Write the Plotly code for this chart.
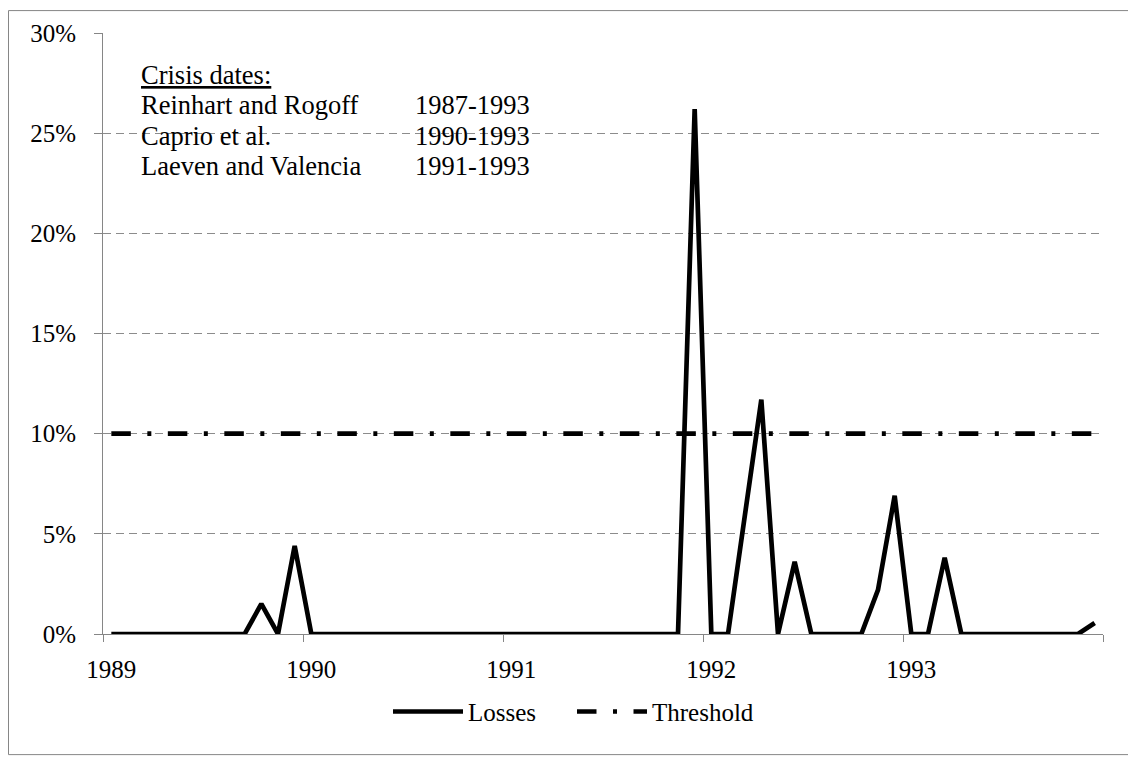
import plotly.graph_objects as go

# Monthly observations, Jan 1989 .. Dec 1993 (60 months)
month_index = list(range(60))
losses_pct = [0, 0, 0, 0, 0, 0, 0, 0, 0, 1.5, 0, 4.4,
              0, 0, 0, 0, 0, 0, 0, 0, 0, 0, 0, 0,
              0, 0, 0, 0, 0, 0, 0, 0, 0, 0, 0, 26.2,
              0, 0, 5.9, 11.7, 0, 3.6, 0, 0, 0, 0, 2.2, 6.9,
              0, 0, 3.8, 0, 0, 0, 0, 0, 0, 0, 0, 0.55]
threshold_pct = [10.0] * 60
year_labels = ["1989", "1990", "1991", "1992", "1993"]
year_label_pos = [0, 12, 24, 36, 48]

crisis_title = "Crisis dates:"
crisis_sources = ["Reinhart and Rogoff", "Caprio et al.", "Laeven and Valencia"]
crisis_dates = ["1987-1993", "1990-1993", "1991-1993"]

FONT = "Liberation Serif"
GRAY = "#868686"
GRID = "#8c8c8c"

losses = [v / 100 for v in losses_pct]
threshold = [v / 100 for v in threshold_pct]

fig = go.Figure()
fig.add_trace(go.Scatter(x=month_index, y=losses, mode="lines", name="Losses",
                         line=dict(color="black", width=4.7)))
fig.add_trace(go.Scatter(x=month_index, y=threshold, mode="lines", name="Threshold",
                         line=dict(color="black", width=4.7, dash="19.5px,16.5px,4px,16.5px")))

fig.update_layout(
    width=1128, height=750,
    margin=dict(l=95, r=33, t=23, b=124),
    paper_bgcolor="white", plot_bgcolor="white",
    font=dict(family=FONT, size=25, color="black"),
    showlegend=True,
    legend=dict(orientation="h", x=0.285, xanchor="left", y=-0.1294, yanchor="middle",
                font=dict(family=FONT, size=25, color="black"), traceorder="normal",
                itemwidth=70, entrywidth=99, entrywidthmode="pixels"),
    xaxis=dict(range=[-0.5, 59.5], tickmode="array", tickvals=year_label_pos,
               ticktext=year_labels, ticks="", showgrid=False, zeroline=False,
               showline=True, linecolor=GRAY, linewidth=1, ticklabelstandoff=13,
               minor=dict(ticks="outside", tickmode="linear", tick0=-0.5, dtick=12,
                          ticklen=7, tickcolor=GRAY, tickwidth=1, showgrid=False),
               tickfont=dict(family=FONT, size=25)),
    yaxis=dict(range=[0, 0.30], tickmode="linear", tick0=0, dtick=0.05,
               tickformat=".0%", ticks="outside", ticklen=8, tickcolor=GRAY,
               showline=True, linecolor=GRAY, linewidth=1, ticklabelstandoff=13,
               showgrid=True, gridcolor=GRID, gridwidth=1, griddash="8px,5px",
               zeroline=False, tickfont=dict(family=FONT, size=25)),
)

# text box: one annotation per line so the line spacing matches
box_font = dict(family=FONT, size=26.5, color="black")
row_top, row_step = 0.93, 0.0506
fig.add_annotation(xref="paper", yref="paper", x=0.036, y=row_top, xanchor="left",
                   yanchor="middle", text="<u>" + crisis_title + "</u>", showarrow=False,
                   font=box_font)
for k, (src, dates) in enumerate(zip(crisis_sources, crisis_dates)):
    yy = row_top - (k + 1) * row_step
    fig.add_annotation(xref="paper", yref="paper", x=0.036, y=yy, xanchor="left",
                       yanchor="middle", text=src, showarrow=False, font=box_font)
    fig.add_annotation(xref="paper", yref="paper", x=0.31, y=yy, xanchor="left",
                       yanchor="middle", text=dates, showarrow=False, font=box_font)

fig.add_shape(type="rect", xref="paper", yref="paper",
              x0=-0.0945, x1=1.03, y0=-0.2007, y1=1.0373,
              line=dict(color=GRAY, width=1), fillcolor="rgba(0,0,0,0)", layer="below")

fig.write_html("out.html")
